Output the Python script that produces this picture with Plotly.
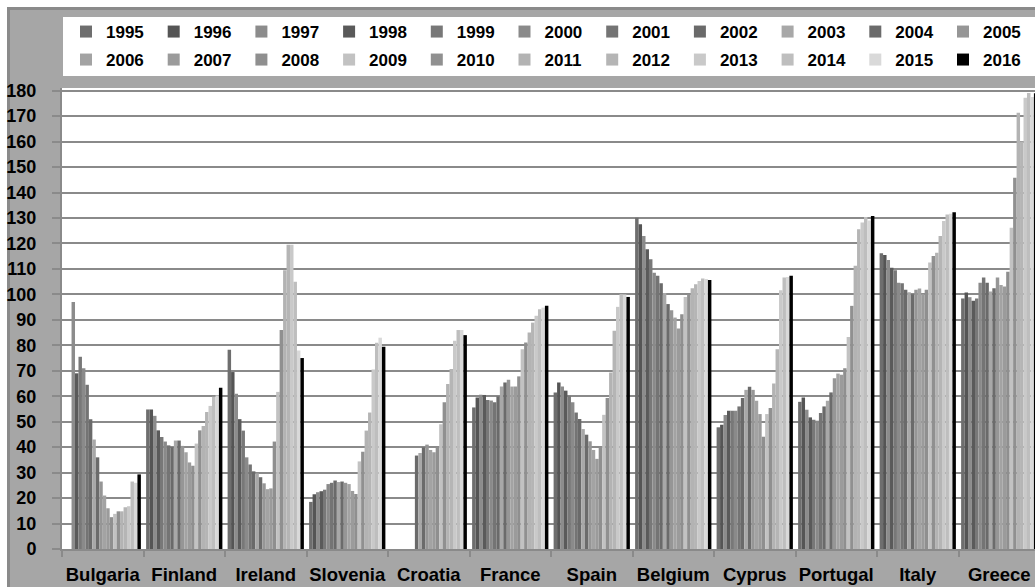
import plotly.graph_objects as go

countries = ["Bulgaria", "Finland", "Ireland", "Slovenia", "Croatia", "France",
             "Spain", "Belgium", "Cyprus", "Portugal", "Italy", "Greece"]
years = list(range(1995, 2017))

bulgaria = [None, None, 97, 69, 75.5, 71, 64.5, 51, 43, 36, 26.5, 21, 16, 12.5, 13.8, 14.8, 14.8, 16.4, 16.8, 26.5, 26, 29.3]
finland = [54.8, 54.8, 52.3, 46.6, 44, 42.2, 40.7, 40, 42.6, 42.6, 40.5, 38, 34, 32.7, 41.4, 46.6, 48.3, 53.8, 56.2, 59.8, 60.3, 63.3]
ireland = [78.3, 69.5, 61, 51, 46.5, 36, 33.2, 30.5, 29.7, 28.2, 25.8, 23.5, 23.8, 42.2, 61.7, 86, 109.5, 119.5, 119.5, 105, 78, 75]
slovenia = [18.5, 21.5, 22.3, 22.7, 23.3, 25.5, 26, 26.9, 26.3, 26.5, 26, 25.5, 22.8, 21.6, 34.4, 38.2, 46.5, 53.6, 70.5, 81, 83, 79.4]
croatia = [None, None, None, None, None, None, None, 36.7, 37.7, 39.9, 41, 38.9, 38, 39.9, 49, 57.6, 64.8, 70.7, 81.8, 86, 86, 84]
france = [55.6, 59.5, 60.6, 60.5, 58.5, 58.3, 57.6, 59.9, 63.8, 65.4, 66.5, 63.8, 63.8, 67.8, 78.5, 81.1, 85, 88.9, 91.6, 94.2, 94.8, 95.5]
spain = [61.5, 65.4, 63.8, 62.2, 60.2, 57.6, 53.6, 51.1, 47.1, 44.9, 42.3, 38.9, 35.4, 40.2, 52.7, 59.3, 69.3, 85.7, 95.1, 100.1, 100, 99]
belgium = [130.1, 127.5, 122.9, 117.7, 113.8, 108.5, 107.3, 104.4, 100.5, 96.2, 93.8, 90.9, 86.6, 92.2, 99, 100.1, 102.4, 104, 105.3, 106.2, 106, 105.7]
cyprus = [47.8, 48.8, 52.6, 54.3, 54.3, 54.3, 56, 59.3, 62.5, 63.7, 62.5, 58.2, 53, 44.1, 53, 55.4, 65, 78.5, 101.6, 106.6, 106.8, 107.3]
portugal = [57.8, 59.5, 54.7, 51.7, 50.8, 50.4, 53.4, 56, 58.2, 61.5, 67.1, 68.9, 68.4, 71, 83.3, 95.5, 111.2, 125.6, 128.2, 130.4, 129, 130.8]
italy = [116.2, 115.5, 113.5, 110.5, 109.5, 104.6, 104.4, 101.8, 100.8, 100.1, 101.8, 102.3, 100.2, 101.8, 112.5, 115.1, 116.4, 122.9, 128.8, 131.4, 131.7, 132.3]
greece = [98.4, 100.7, 98.9, 97.5, 98.4, 104.6, 106.6, 104.6, 101.1, 102.4, 106.6, 103.7, 103.1, 108.9, 126.2, 145.8, 171.3, 160, 177.2, 179.1, 177.5, 179]

series_by_country = [bulgaria, finland, ireland, slovenia, croatia, france,
                     spain, belgium, cyprus, portugal, italy, greece]

year_colors = ["#6e6e6e", "#555555", "#8c8c8c", "#5a5a5a", "#787878", "#8a8a8a",
               "#747474", "#6a6a6a", "#a8a8a8", "#6b6b6b", "#969696", "#a3a3a3",
               "#9b9b9b", "#8f8f8f", "#c2c2c2", "#909090", "#b3b3b3", "#b5b5b5",
               "#c9c9c9", "#bebebe", "#d9d9d9", "#000000"]

y_ticks = list(range(0, 181, 10))

W, H = 1035, 587
L, R, T, B = 62, 0, 88, 38
PW, PH = W - L - R, H - T - B

def px(p):
    return (p - L) / PW

def py(p):
    return (H - B - p) / PH

FONT = "Liberation Sans, Arial, sans-serif"

fig = go.Figure()
for i, yr in enumerate(years):
    fig.add_trace(go.Bar(
        x=countries,
        y=[c[i] for c in series_by_country],
        name=str(yr),
        marker=dict(color=year_colors[i], line=dict(width=0)),
        legend="legend" if i < 11 else "legend2",
    ))

shapes = [
    # white page margin on top/left
    dict(type="rect", xref="paper", yref="paper", x0=px(-5), x1=px(1100), y0=py(7), y1=py(-5),
         fillcolor="white", line=dict(width=0), layer="below"),
    dict(type="rect", xref="paper", yref="paper", x0=px(-5), x1=px(7), y0=py(700), y1=py(-5),
         fillcolor="white", line=dict(width=0), layer="below"),
    # chart border
    dict(type="rect", xref="paper", yref="paper", x0=px(8.5), x1=px(1100), y0=py(700), y1=py(8.5),
         fillcolor="rgba(0,0,0,0)", line=dict(color="#8a8a8a", width=3), layer="below"),
    # legend box
    dict(type="rect", xref="paper", yref="paper", x0=px(63), x1=px(1100), y0=py(76), y1=py(17),
         fillcolor="white", line=dict(width=0), layer="below"),
]

legend_common = dict(
    orientation="h", xref="paper", x=px(66), xanchor="left", yanchor="middle",
    bgcolor="rgba(0,0,0,0)", borderwidth=0,
    font=dict(family=FONT, size=17, color="black", weight="bold"),
    entrywidth=42.7, entrywidthmode="pixels", itemclick=False, itemdoubleclick=False,
)

fig.update_layout(
    width=W, height=H,
    margin=dict(l=L, r=R, t=T, b=B, pad=0, autoexpand=False),
    paper_bgcolor="#a6a6a6",
    plot_bgcolor="white",
    barmode="group",
    bargap=0.064,
    bargroupgap=0,
    showlegend=True,
    legend=dict(**legend_common, y=py(32)),
    legend2=dict(**legend_common, y=py(60)),
    shapes=shapes,
    xaxis=dict(
        type="category", categoryorder="array", categoryarray=countries,
        range=[-0.5, -0.5 + PW / 81.5],
        showgrid=False, showline=True, linecolor="#8a8a8a", linewidth=2,
        ticks="outside", tickson="boundaries", ticklen=6, tickwidth=2, tickcolor="#8a8a8a",
        tickfont=dict(family=FONT, size=18.5, color="black", weight="bold"),
        tickangle=0, automargin=False,
        ticklabelstandoff=8,
        fixedrange=True,
    ),
    yaxis=dict(
        range=[0, (H - B - T) / ((H - B - 90.7) / 180)],
        tickvals=y_ticks, ticktext=[str(v) for v in y_ticks],
        showgrid=True, gridcolor="#8a8a8a", gridwidth=2,
        showline=True, linecolor="#8a8a8a", linewidth=2, zeroline=False,
        ticks="outside", ticklen=8, tickwidth=2, tickcolor="#8a8a8a",
        tickfont=dict(family=FONT, size=18, color="black", weight="bold"),
        automargin=False,
        ticklabelstandoff=12,
        fixedrange=True,
    ),
)

fig.write_html("out.html", config={"displayModeBar": False},
               post_script="document.body.style.margin='0';document.body.style.overflow='hidden';")
